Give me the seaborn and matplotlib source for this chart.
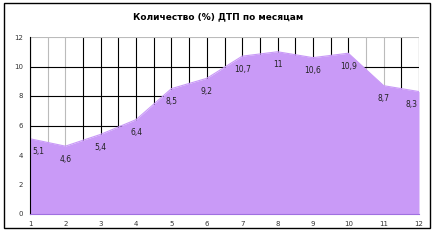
import matplotlib
matplotlib.use("Agg")
import matplotlib.pyplot as plt
import seaborn as sns
import pandas as pd
from matplotlib.patches import Rectangle

months = [1, 2, 3, 4, 5, 6, 7, 8, 9, 10, 11, 12]
values = [5.1, 4.6, 5.4, 6.4, 8.5, 9.2, 10.7, 11.0, 10.6, 10.9, 8.7, 8.3]
labels = ["5,1", "4,6", "5,4", "6,4", "8,5", "9,2", "10,7", "11", "10,6", "10,9", "8,7", "8,3"]
title = "Количество (%) ДТП по месяцам"
yticks = [0, 2, 4, 6, 8, 10, 12]

df = pd.DataFrame({"month": months, "value": values})

sns.set_theme(style="white")
plt.rcParams["font.family"] = ["DejaVu Sans"]

fig = plt.figure(figsize=(4.36, 2.40), dpi=100)
ax = fig.add_axes([30/436, 1-214/240, 389/436, 177/240])

# gridlines (behind area)
for i in range(23):
    xv = 1 + i * 0.5
    col = "#bbbbbb" if xv in (1.5, 2.0, 10.5, 11.0) else "black"
    ax.axvline(xv, color=col, lw=0.8, zorder=0)
for yv in yticks[1:]:
    col = "#bbbbbb" if yv == 12 else "black"
    ax.axhline(yv, color=col, lw=0.8, zorder=0)

sns.lineplot(data=df, x="month", y="value", ax=ax, color="#c99af7", lw=0.8, zorder=2)
ax.fill_between(df["month"], 0, df["value"], color="#c99af7", lw=0, zorder=2)

for i, (m, v, t) in enumerate(zip(months, values, labels)):
    dx = 8 if i == 0 else (-8 if i == len(months) - 1 else 0)
    ax.annotate(t, (m, v), xytext=(dx, -13), textcoords="offset pixels",
                ha="center", va="center", fontsize=5.5, color="#222222", zorder=3)

ax.set_xlim(1, 12)
ax.set_ylim(0, 12)
ax.set_xticks(months)
ax.set_xticklabels([str(m) for m in months])
ax.set_yticks(yticks)
ax.set_yticklabels([str(y) for y in yticks])
ax.tick_params(axis="both", labelsize=5, colors="#333333", length=2, width=0.6, pad=3)
ax.set_xlabel("")
ax.set_ylabel("")
for s in ["top", "right"]:
    ax.spines[s].set_visible(False)
ax.spines["left"].set_color("black")
ax.spines["left"].set_linewidth(0.8)
ax.spines["bottom"].set_color("#a070e0")
ax.spines["bottom"].set_linewidth(0.8)

fig.text(218/436, 1-17/240, title, ha="center", va="center", fontsize=6.5,
         fontweight="bold", color="black")

fig.patches.append(Rectangle((4/436, 1-228/240), 426/436, 225/240,
                             transform=fig.transFigure, fill=False,
                             edgecolor="black", lw=1.0))

fig.savefig("out.png", dpi=100)
